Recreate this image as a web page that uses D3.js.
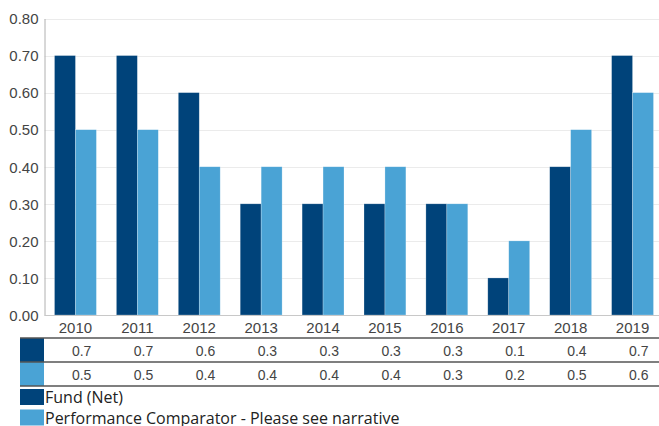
<!DOCTYPE html>
<html>
<head>
<meta charset="utf-8">
<script src="https://cdn.jsdelivr.net/npm/d3@7"></script>
<style>
  body { margin: 0; background: #fff; }
  svg { display: block; }
  .tick-label { font-family: "Liberation Sans", Arial, sans-serif; font-size: 15px; fill: #444; }
  .cell-label { font-family: "Liberation Sans", Arial, sans-serif; font-size: 14px; fill: #444; }
  .legend-label { font-family: "Open Sans", sans-serif; font-size: 16px; fill: #222; }
</style>
</head>
<body>
<svg id="chart" width="659" height="426"></svg>
<script>
const years = ["2010","2011","2012","2013","2014","2015","2016","2017","2018","2019"];
const fundValues = [0.7, 0.7, 0.6, 0.3, 0.3, 0.3, 0.3, 0.1, 0.4, 0.7];
const comparatorValues = [0.5, 0.5, 0.4, 0.4, 0.4, 0.4, 0.3, 0.2, 0.5, 0.6];
const seriesNames = ["Fund (Net)", "Performance Comparator - Please see narrative"];
const seriesColors = ["#00437a", "#4aa3d5"];
const yTicks = [0, 0.1, 0.2, 0.3, 0.4, 0.5, 0.6, 0.7, 0.8];

let svg = d3.select("#chart");

let x0 = d3.scaleBand().domain(years).range([44.5, 663.5]);
let x1 = d3.scaleBand().domain([0, 1]).range([10, x0.bandwidth() - 10]);
let y = d3.scaleLinear().domain([0, 0.8]).range([315, 18.5]);

// gridlines
svg.append("g")
  .selectAll("line")
  .data(yTicks)
  .join("line")
    .attr("x1", 44.5).attr("x2", 659)
    .attr("y1", d => Math.round(y(d)) + 0.5)
    .attr("y2", d => Math.round(y(d)) + 0.5)
    .attr("stroke", "#ebebeb");

// y axis labels
let yAxis = d3.axisLeft(y).tickValues(yTicks).tickFormat(d3.format(".2f")).tickSize(0).tickPadding(6);
let yG = svg.append("g").attr("transform", "translate(44.5,0)").call(yAxis);
yG.select(".domain").attr("stroke", "#b0b0b0");
yG.selectAll("text").attr("class", "tick-label").attr("dy", "0.35em");

// bars
let groups = svg.append("g")
  .selectAll("g")
  .data(years)
  .join("g")
    .attr("transform", d => "translate(" + x0(d) + ",0)");

groups.selectAll("rect")
  .data((d, i) => [fundValues[i], comparatorValues[i]])
  .join("rect")
    .attr("x", (d, j) => x1(j))
    .attr("width", x1.bandwidth())
    .attr("y", d => y(d))
    .attr("height", d => y(0) - y(d))
    .attr("fill", (d, j) => seriesColors[j])
    .attr("stroke", "#ffffff")
    .attr("stroke-opacity", 0.4)
    .attr("stroke-width", 0.6);

// x axis
let xAxis = d3.axisBottom(x0).tickSize(0).tickPadding(0);
let xG = svg.append("g").attr("transform", "translate(0,315)").call(xAxis);
xG.select(".domain").remove();
svg.append("line")
  .attr("x1", 44.5).attr("x2", 659).attr("y1", 315.5).attr("y2", 315.5)
  .attr("stroke", "#c8c8c8");
xG.selectAll("text").attr("class", "tick-label").attr("y", 17.5).attr("dy", 0);

// data table
const rowTops = [338, 362];
const rowH = 24;
let rows = [fundValues, comparatorValues];
rows.forEach((vals, r) => {
  svg.append("rect")
    .attr("x", 20).attr("y", rowTops[r]).attr("width", 24).attr("height", rowH)
    .attr("fill", seriesColors[r]);
  svg.append("g")
    .selectAll("text")
    .data(vals)
    .join("text")
      .attr("class", "cell-label")
      .attr("text-anchor", "end")
      .attr("x", (d, i) => x0(years[i]) + x0.bandwidth() - 15)
      .attr("y", rowTops[r] + 17.5)
      .text(d => d);
});
[338, 362, 386].forEach(ly => {
  svg.append("line")
    .attr("x1", 20).attr("x2", 659).attr("y1", ly).attr("y2", ly)
    .attr("stroke", "#555").attr("stroke-width", 1.5);
});

// legend
let legend = svg.append("g")
  .selectAll("g")
  .data(seriesNames)
  .join("g")
    .attr("transform", (d, i) => "translate(20," + (389 + i * 20.5) + ")");
legend.append("rect")
  .attr("width", 24).attr("height", 16)
  .attr("fill", (d, i) => seriesColors[i]);
legend.append("text")
  .attr("class", "legend-label")
  .attr("x", 25).attr("y", 14)
  .text(d => d);
</script>
</body>
</html>
